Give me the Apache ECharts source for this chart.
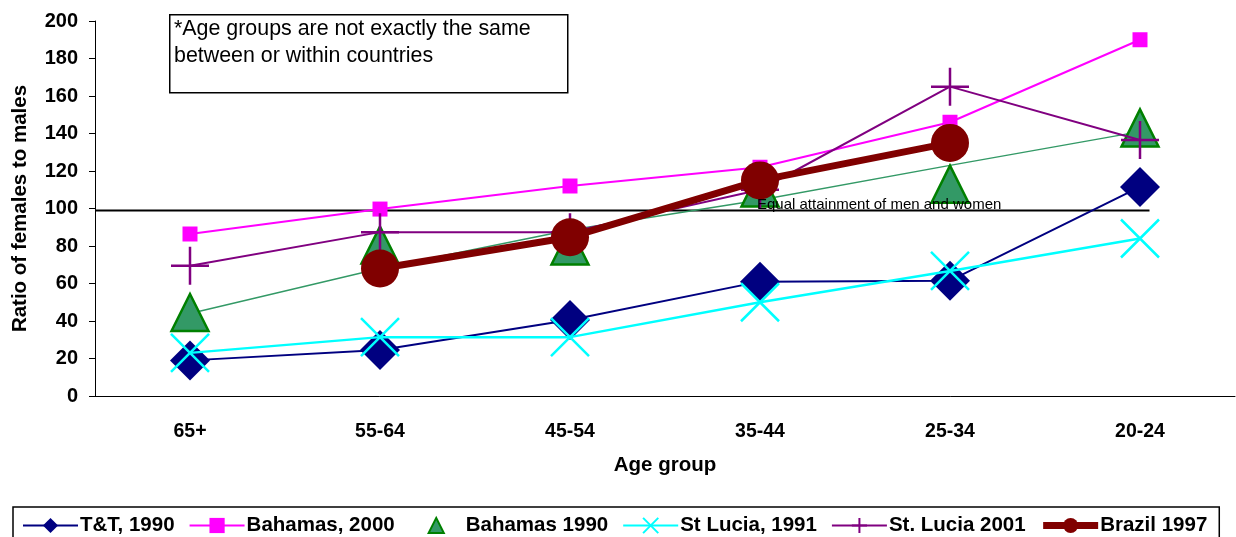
<!DOCTYPE html>
<html><head><meta charset="utf-8">
<script src="https://cdn.jsdelivr.net/npm/echarts@6/dist/echarts.min.js"></script>
<style>html,body{margin:0;padding:0;background:#fff}#c{width:1236px;height:537px}</style>
</head><body><div id="c"></div>
<script>
const categories = ['65+', '55-64', '45-54', '35-44', '25-34', '20-24'];
const ttt1990 = [19, 24.5, 40.5, 61, 61.5, 111.5];
const bahamas2000 = [86.4, 99.7, 112, 122, 146, 190];
const bahamas1990 = [44.5, 80.5, 80, 111, 113, 143];
const bahamasTrend = [44, 68, 88.5, 104.5, 123, 141];
const stLucia1991 = [23, 31.4, 31.4, 50, 66.7, 84];
const stLucia2001 = [69.5, 87.4, 87.4, 110, 165, 136.5];
const brazil1997 = [null, 68, 84.7, 115, 135, null];
const equalLevel = [[0, 99], [5.55, 99]];
const yTicks = { min: 0, max: 200, interval: 20 };
const FONT = "'Liberation Sans', Arial, sans-serif";

const chart = echarts.init(document.getElementById('c'));
const xPath = 'path://M0,0L10,10M10,0L0,10';
const plusPath = 'path://M5,0L5,10M0,5L10,5';
chart.setOption({
  animation: false,
  textStyle: { fontFamily: FONT },
  grid: { left: 95, right: 1, top: 21, bottom: 141 },
  xAxis: [{
    type: 'category', data: categories, boundaryGap: true,
    axisLine: { lineStyle: { color: '#000', width: 1 } },
    axisTick: { length: 6, lineStyle: { color: '#000' } },
    axisLabel: { color: '#000', fontWeight: 'bold', fontSize: 19.5, margin: 26, fontFamily: FONT },
    name: 'Age group', nameLocation: 'middle', nameGap: 59,
    nameTextStyle: { color: '#000', fontWeight: 'bold', fontSize: 20.5, fontFamily: FONT }
  }, {
    type: 'value', min: 0, max: 6, show: false, position: 'bottom'
  }],
  yAxis: {
    type: 'value', min: yTicks.min, max: yTicks.max, interval: yTicks.interval,
    splitLine: { show: false },
    axisLine: { show: true, lineStyle: { color: '#000', width: 1 } },
    axisTick: { show: true, length: 6, lineStyle: { color: '#000' } },
    axisLabel: { color: '#000', fontWeight: 'bold', fontSize: 20, margin: 17, fontFamily: FONT },
    name: 'Ratio of females to males', nameLocation: 'middle', nameGap: 64,
    nameTextStyle: { color: '#000', fontWeight: 'bold', fontSize: 20.5, fontFamily: FONT }
  },
  legend: {
    left: 13, top: 507, width: 1215, orient: 'horizontal',
    data: ['T&T, 1990', 'Bahamas, 2000', 'Bahamas 1990', 'St Lucia, 1991', 'St. Lucia 2001',
      { name: 'Brazil 1997', lineStyle: { width: 7 } }],
    itemWidth: 55, itemHeight: 19, itemGap: 14,
    padding: [8, 12, 10, 9],
    borderColor: '#000', borderWidth: 1.5,
    textStyle: { color: '#000', fontWeight: 'bold', fontSize: 20.5, fontFamily: FONT, padding: [0, 0, 0, -3] }
  },
  graphic: [
    { type: 'rect', left: 169, top: 14, shape: { width: 398, height: 78 },
      style: { fill: '#fff', stroke: '#000', lineWidth: 1.5 }, z: 10 },
    { type: 'text', left: 174, top: 16, z: 11,
      style: { text: '*Age groups are not exactly the same\nbetween or within countries',
        font: '21.4px ' + FONT, fill: '#000', lineHeight: 27 } },
    { type: 'text', left: 757, top: 197, z: 11,
      style: { text: 'Equal attainment of men and women', font: '15px ' + FONT, fill: '#000' } }
  ],
  series: [
    { name: 'equal', type: 'line', xAxisIndex: 1, data: equalLevel, symbol: 'none',
      lineStyle: { color: '#000', width: 2 }, silent: true, z: 1 },
    { name: 'T&T, 1990', type: 'line', data: ttt1990, symbol: 'diamond', symbolSize: 40,
      color: '#000080', lineStyle: { color: '#000080', width: 2 }, itemStyle: { color: '#000080' }, z: 2 },
    { name: 'Bahamas, 2000', type: 'line', data: bahamas2000, symbol: 'rect', symbolSize: 15,
      color: '#ff00ff', lineStyle: { color: '#ff00ff', width: 2 }, itemStyle: { color: '#ff00ff' }, z: 3 },
    { name: 'Bahamas 1990', type: 'line', data: bahamas1990, symbol: 'triangle', symbolSize: 37,
      color: '#339966', lineStyle: { width: 0, opacity: 0 },
      itemStyle: { color: '#339966', borderColor: '#008000', borderWidth: 2.5 }, z: 4 },
    { name: 'trend', type: 'line', data: bahamasTrend, symbol: 'none',
      lineStyle: { color: '#339966', width: 1.5 }, z: 4 },
    { name: 'St Lucia, 1991', type: 'line', data: stLucia1991, symbol: xPath, symbolSize: 38,
      color: '#00ffff', lineStyle: { color: '#00ffff', width: 2.5 },
      itemStyle: { color: 'none', borderColor: '#00ffff', borderWidth: 2.5 }, z: 5 },
    { name: 'St. Lucia 2001', type: 'line', data: stLucia2001, symbol: plusPath, symbolSize: 38,
      color: '#800080', lineStyle: { color: '#800080', width: 2 },
      itemStyle: { color: 'none', borderColor: '#800080', borderWidth: 2.5 }, z: 6 },
    { name: 'Brazil 1997', type: 'line', data: brazil1997, symbol: 'circle', symbolSize: 38,
      color: '#800000', lineStyle: { color: '#800000', width: 7 }, itemStyle: { color: '#800000' }, z: 7 }
  ]
});
</script></body></html>
